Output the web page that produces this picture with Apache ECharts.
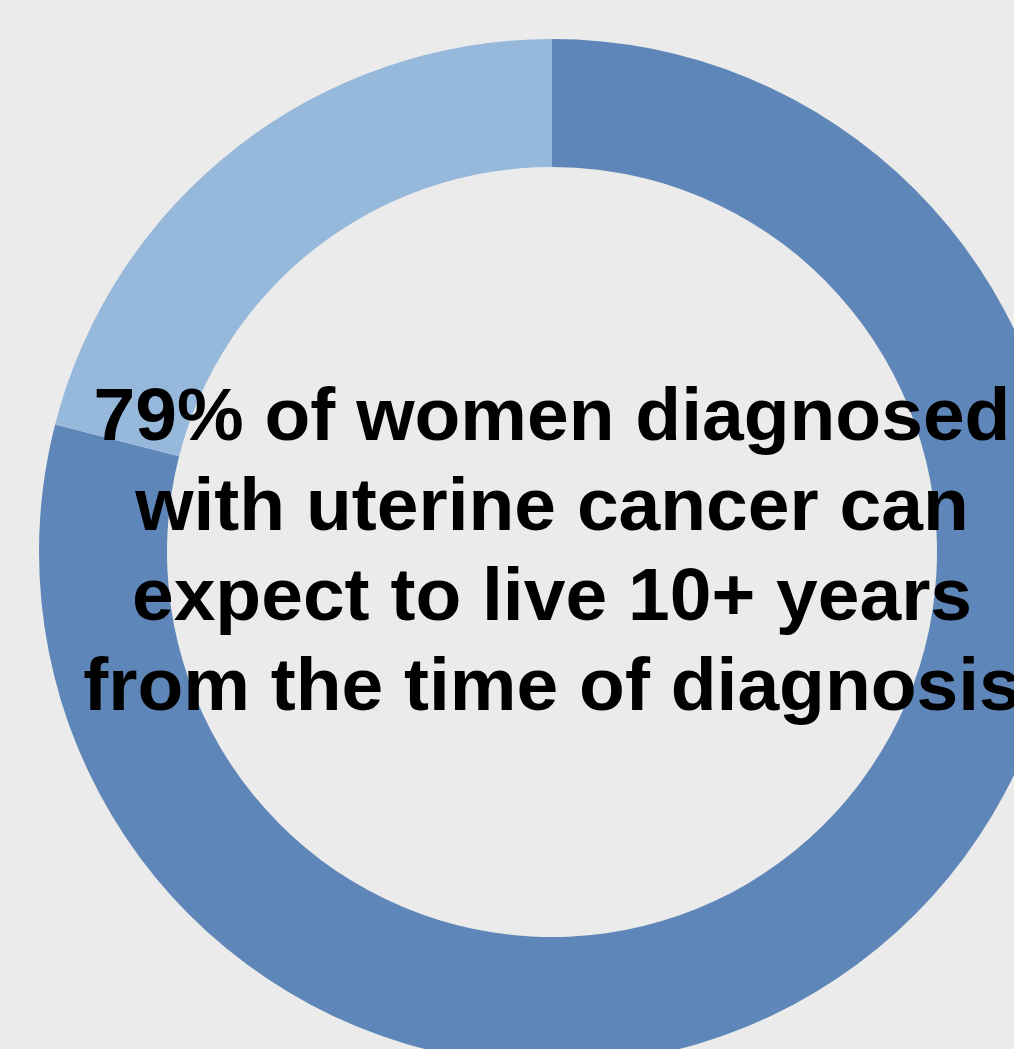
<!DOCTYPE html>
<html>
<head>
<meta charset="utf-8">
<script src="https://cdn.jsdelivr.net/npm/echarts@6/dist/echarts.min.js"></script>
<style>
html,body{margin:0;padding:0;background:#EBEBEB;}
#chart{width:1014px;height:1049px;}
</style>
</head>
<body>
<div id="chart"></div>
<script>
const categories = ['Live 10+ years', 'Other'];
const values = [79, 21];
const colors = ['#5E86B8', '#96B8DB'];
const centerLines = [
  '79% of women diagnosed',
  'with uterine cancer can',
  'expect to live 10+ years',
  'from the time of diagnosis'
];

const chart = echarts.init(document.getElementById('chart'), null, {renderer: 'canvas'});
chart.setOption({
  backgroundColor: '#EBEBEB',
  animation: false,
  series: [{
    type: 'pie',
    center: [552, 552],
    radius: [385, 513],
    startAngle: 90,
    clockwise: true,
    z: 1,
    label: {show: false},
    labelLine: {show: false},
    emphasis: {disabled: true},
    itemStyle: {borderWidth: 0},
    data: categories.map((c, i) => ({name: c, value: values[i], itemStyle: {color: colors[i]}}))
  }],
  graphic: [{
    type: 'text',
    x: 552,
    y: 554,
    z: 100,
    zlevel: 1,
    style: {
      text: centerLines.join('\n'),
      x: 0,
      y: 0,
      fill: '#000',
      font: 'bold 75px "Liberation Sans", Arial, sans-serif',
      textAlign: 'center',
      textVerticalAlign: 'middle',
      lineHeight: 90
    }
  }]
});
</script>
</body>
</html>
